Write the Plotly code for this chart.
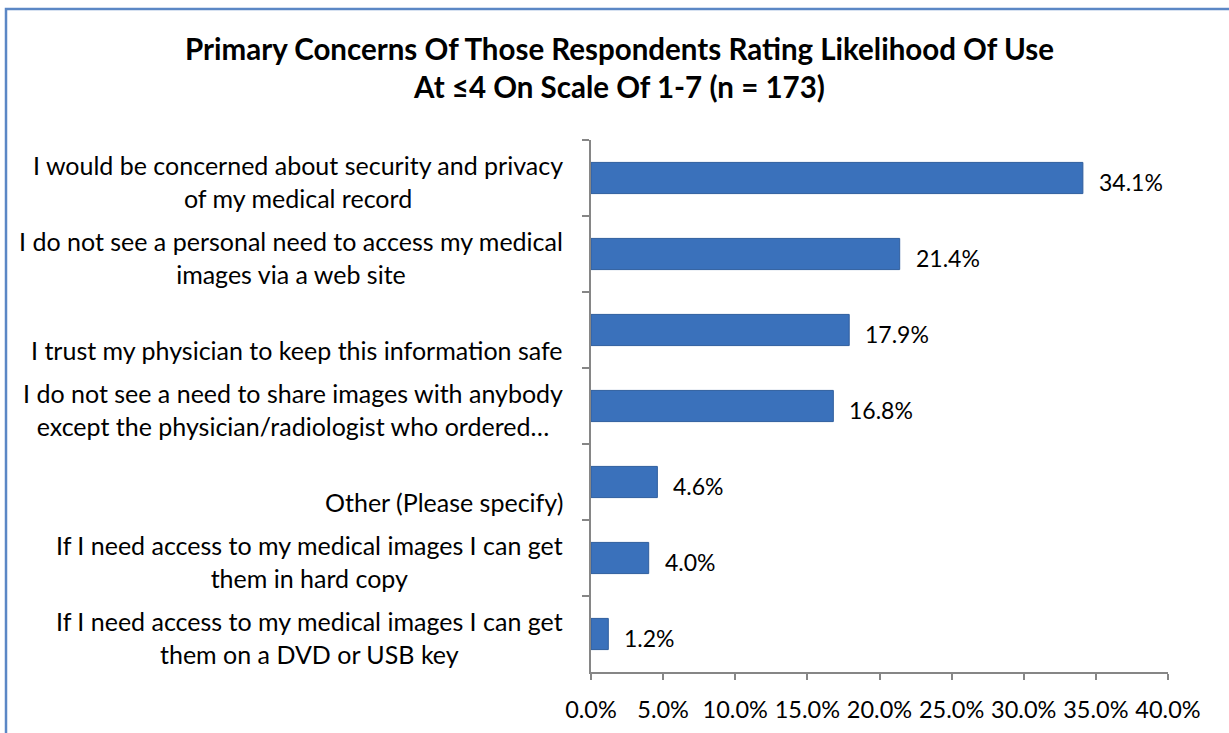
import plotly.graph_objects as go

title_lines = ["Primary Concerns Of Those Respondents Rating Likelihood Of Use",
               "At ≤4 On Scale Of 1-7 (n = 173)"]
categories = [
    "I would be concerned about security and privacy<br>of my medical record",
    "I do not see a personal need to access my medical<br>images via a web site",
    "I trust my physician to keep this information safe",
    "I do not see a need to share images with anybody<br>except the physician/radiologist who ordered…",
    "Other (Please specify)",
    "If I need access to my medical images I can get<br>them in hard copy",
    "If I need access to my medical images I can get<br>them on a DVD or USB key",
]
values = [34.1, 21.4, 17.9, 16.8, 4.6, 4.0, 1.2]
x_ticks = [0, 5, 10, 15, 20, 25, 30, 35, 40]

FONT = "Lato"
W, H = 1229, 733
L, R, T, B = 591, 61, 140, 61
pw, ph = W - L - R, H - T - B

fig = go.Figure()
fig.add_trace(go.Bar(
    x=values, y=categories, orientation="h",
    marker=dict(color="#3A71BB", line=dict(color="#2F5E9E", width=1)),
    width=0.41, hoverinfo="skip",
))

ann = []
for c, v in zip(categories, values):
    ann.append(dict(x=v, y=c, xref="x", yref="y", text=f"{v:.1f}%",
                    showarrow=False, xanchor="left", yanchor="middle",
                    xshift=14, yshift=-4,
                    font=dict(family=FONT, size=23, color="#000000")))
    multi = "<br>" in c
    ann.append(dict(x=0, y=c, xref="paper", yref="y", text=c,
                    showarrow=False, xanchor="right", yanchor="middle",
                    align="center", xshift=-26, yshift=-3 if multi else -20,
                    font=dict(family=FONT, size=25, color="#000000")))
ann.append(dict(x=(619 - L) / pw, y=(H - B - 68) / ph, xref="paper", yref="paper",
                text="<b>" + "<br>".join(title_lines) + "</b>", showarrow=False,
                xanchor="center", yanchor="middle", align="center",
                font=dict(family=FONT, size=29.5, color="#000000")))

fig.update_layout(
    width=W, height=H,
    margin=dict(l=L, r=R, t=T, b=B, autoexpand=False),
    paper_bgcolor="white", plot_bgcolor="white",
    showlegend=False,
    annotations=ann,
    xaxis=dict(range=[0, 40], tickvals=x_ticks,
               ticktext=[f"{t:.1f}%" for t in x_ticks],
               showgrid=False, zeroline=False, showline=True,
               linecolor="#868686", linewidth=1.5,
               ticks="outside", ticklen=6, tickcolor="#868686", tickwidth=1.5,
               ticklabelstandoff=10,
               tickfont=dict(family=FONT, size=23.5, color="#000000")),
    yaxis=dict(type="category", autorange="reversed", showticklabels=False,
               showgrid=False, zeroline=False, showline=True,
               linecolor="#868686", linewidth=1.5,
               ticks="outside", ticklen=7, tickcolor="#868686", tickwidth=1.5,
               tickson="boundaries"),
    shapes=[dict(type="rect", xref="paper", yref="paper",
                 x0=(6 - L) / pw, x1=(W + 5 - L) / pw,
                 y0=(H - B - (H + 5)) / ph, y1=(H - B - 9) / ph,
                 line=dict(color="#5B87C5", width=2.5), fillcolor="rgba(0,0,0,0)",
                 layer="below")],
)

fig.write_html("out.html")
